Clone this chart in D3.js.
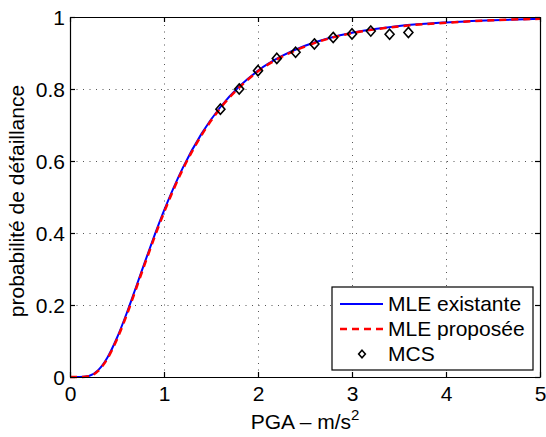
<!DOCTYPE html>
<html>
<head>
<meta charset="utf-8">
<script src="https://cdn.jsdelivr.net/npm/d3@7"></script>
<style>
    body { margin: 0; background: #fff; }
    svg { display: block; }
    text { font-family: "Liberation Sans", Arial, Helvetica, sans-serif; }
</style>
</head>
<body>
<div id="chart"></div>
<script>
// PGA grid (m/s^2) used to read the two fragility curves off the figure
const pga = [0, 0.1, 0.2, 0.3, 0.4, 0.5, 0.6, 0.7, 0.8, 0.9, 1.0, 1.2, 1.4, 1.6, 1.8, 2.0, 2.25, 2.5, 2.75, 3.0, 3.5, 4.0, 4.5, 5.0];
// MLE existante (blue solid)
const pfExistante = [0, 0, 0.003, 0.019, 0.055, 0.109, 0.175, 0.248, 0.322, 0.394, 0.462, 0.581, 0.676, 0.750, 0.807, 0.851, 0.891, 0.920, 0.941, 0.956, 0.975, 0.985, 0.991, 0.995];
// MLE proposée (red dashed)
const pfProposee = [0, 0, 0.002, 0.017, 0.052, 0.105, 0.170, 0.243, 0.317, 0.389, 0.457, 0.577, 0.672, 0.747, 0.804, 0.849, 0.889, 0.918, 0.940, 0.955, 0.974, 0.984, 0.991, 0.995];

// MCS points (diamonds)
const mcsPga = [1.6, 1.8, 2.0, 2.2, 2.4, 2.6, 2.8, 3.0, 3.2, 3.4, 3.6];
const mcsPf = [0.744, 0.800, 0.851, 0.885, 0.902, 0.925, 0.943, 0.953, 0.961, 0.952, 0.957];

// Ticks and labels
const xTicks = [0, 1, 2, 3, 4, 5];
const yTicks = [0, 0.2, 0.4, 0.6, 0.8, 1];
const legendLabels = ["MLE existante", "MLE proposée", "MCS"];

// Diamond shape like MATLAB's 'd' marker
const diamond = {
    draw(context, size) {
        const r = Math.sqrt(size) / 2;
        context.moveTo(0, -r * 1.08);
        context.lineTo(r * 0.95, 0);
        context.lineTo(0, r * 1.08);
        context.lineTo(-r * 0.95, 0);
        context.closePath();
    }
};

createChart();

function createChart() {
    const width = 546;
    const height = 437;
    const margin = { top: 17, right: 6, bottom: 60, left: 70 };
    const innerRight = width - margin.right;
    const innerBottom = height - margin.bottom;

    const svg = d3.select("#chart")
        .append("svg")
        .attr("width", width)
        .attr("height", height);

    svg.append("rect")
        .attr("width", width)
        .attr("height", height)
        .attr("fill", "#fff");

    const xScale = d3.scaleLinear().domain([0, 5]).range([margin.left, innerRight]);
    const yScale = d3.scaleLinear().domain([0, 1]).range([innerBottom, margin.top]);

    // dotted grid
    const grid = svg.append("g")
        .attr("stroke", "#555")
        .attr("stroke-width", 1)
        .attr("stroke-dasharray", "1,5.5");

    grid.selectAll(".gx")
        .data(xTicks.slice(1, -1))
        .join("line")
            .attr("x1", d => Math.round(xScale(d)) + 0.5)
            .attr("x2", d => Math.round(xScale(d)) + 0.5)
            .attr("y1", innerBottom)
            .attr("y2", margin.top);

    grid.selectAll(".gy")
        .data(yTicks.slice(1, -1))
        .join("line")
            .attr("y1", d => Math.round(yScale(d)) + 0.5)
            .attr("y2", d => Math.round(yScale(d)) + 0.5)
            .attr("x1", margin.left)
            .attr("x2", innerRight);

    // curves
    const rowsExistante = pga.map((x, i) => ({ x, y: pfExistante[i] }));
    const rowsProposee = pga.map((x, i) => ({ x, y: pfProposee[i] }));

    const line = d3.line()
        .x(d => xScale(d.x))
        .y(d => yScale(d.y))
        .curve(d3.curveMonotoneX);

    svg.append("path")
        .datum(rowsExistante)
        .attr("fill", "none")
        .attr("stroke", "#0000ff")
        .attr("stroke-width", 2)
        .attr("d", line);

    svg.append("path")
        .datum(rowsProposee)
        .attr("fill", "none")
        .attr("stroke", "#ff0000")
        .attr("stroke-width", 2.5)
        .attr("stroke-dasharray", "7,5")
        .attr("d", line);

    // MCS diamonds
    const mcs = mcsPga.map((x, i) => ({ x, y: mcsPf[i] }));
    svg.selectAll(".mcs")
        .data(mcs)
        .join("path")
            .attr("class", "mcs")
            .attr("transform", d => `translate(${xScale(d.x)},${yScale(d.y)})`)
            .attr("d", d3.symbol(diamond, 90))
            .attr("fill", "none")
            .attr("stroke", "#000")
            .attr("stroke-width", 1.6);

    // axes, ticks pointing inward like MATLAB
    const fontSize = 21;
    const xAxis = svg.append("g")
        .attr("transform", `translate(0,${innerBottom})`)
        .call(d3.axisBottom(xScale).tickValues(xTicks).tickFormat(d3.format("d")).tickSize(-5).tickSizeOuter(0).tickPadding(10));

    const yAxis = svg.append("g")
        .attr("transform", `translate(${margin.left},0)`)
        .call(d3.axisLeft(yScale).tickValues(yTicks).tickFormat(d => d === 0 || d === 1 ? d3.format("d")(d) : d3.format(".1f")(d)).tickSize(-5).tickSizeOuter(0).tickPadding(5));

    svg.append("g")
        .attr("transform", `translate(0,${margin.top})`)
        .call(d3.axisTop(xScale).tickValues(xTicks).tickFormat("").tickSize(-5).tickSizeOuter(0));

    svg.append("g")
        .attr("transform", `translate(${innerRight},0)`)
        .call(d3.axisRight(yScale).tickValues(yTicks).tickFormat("").tickSize(-5).tickSizeOuter(0));

    svg.selectAll(".domain, .tick line")
        .attr("stroke", "#000")
        .attr("stroke-width", 1.2);

    svg.selectAll(".tick text")
        .attr("fill", "#000")
        .style("font-size", fontSize + "px");

    yAxis.selectAll(".tick text").attr("dy", "0.36em");
    xAxis.selectAll(".tick text").attr("dy", "0.68em");

    // axis titles
    const xLabel = svg.append("text")
        .attr("x", (margin.left + innerRight) / 2)
        .attr("y", 429)
        .attr("text-anchor", "middle")
        .style("font-size", fontSize + "px")
        .attr("fill", "#000");
    xLabel.append("tspan").text("PGA – m/s");
    xLabel.append("tspan")
        .attr("dy", -9)
        .style("font-size", "15px")
        .text("2");

    svg.append("text")
        .attr("transform", `translate(24,${(margin.top + innerBottom) / 2 + 4}) rotate(-90)`)
        .attr("text-anchor", "middle")
        .style("font-size", fontSize + "px")
        .attr("fill", "#000")
        .text("probabilité de défaillance");

    // legend
    const legend = svg.append("g").attr("transform", "translate(332,287)");
    legend.append("rect")
        .attr("width", 201)
        .attr("height", 83)
        .attr("fill", "#fff")
        .attr("stroke", "#000")
        .attr("stroke-width", 1.2);

    const rowY = d3.scalePoint().domain(legendLabels).range([17, 67]);

    legend.append("line")
        .attr("x1", 8).attr("x2", 51)
        .attr("y1", rowY(legendLabels[0])).attr("y2", rowY(legendLabels[0]))
        .attr("stroke", "#0000ff").attr("stroke-width", 2);

    legend.append("line")
        .attr("x1", 8).attr("x2", 51)
        .attr("y1", rowY(legendLabels[1])).attr("y2", rowY(legendLabels[1]))
        .attr("stroke", "#ff0000").attr("stroke-width", 2.5)
        .attr("stroke-dasharray", "7,5");

    legend.append("path")
        .attr("transform", `translate(30,${rowY(legendLabels[2])})`)
        .attr("d", d3.symbol(diamond, 50))
        .attr("fill", "none")
        .attr("stroke", "#000")
        .attr("stroke-width", 1.6);

    legend.selectAll(".lab")
        .data(legendLabels)
        .join("text")
            .attr("x", 56)
            .attr("y", d => rowY(d) + 7)
            .style("font-size", fontSize + "px")
            .attr("fill", "#000")
            .text(d => d);
}
</script>
</body>
</html>
